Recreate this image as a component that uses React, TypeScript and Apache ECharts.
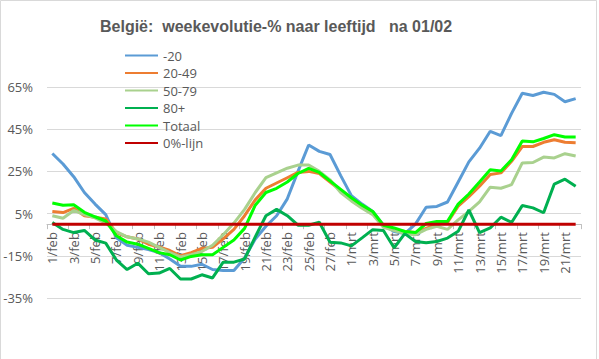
import React, { useEffect, useRef } from "react";
import * as echarts from "echarts";

const categories = [
  "1/feb","2/feb","3/feb","4/feb","5/feb","6/feb","7/feb","8/feb","9/feb","10/feb",
  "11/feb","12/feb","13/feb","14/feb","15/feb","16/feb","17/feb","18/feb","19/feb","20/feb",
  "21/feb","22/feb","23/feb","24/feb","25/feb","26/feb","27/feb","28/feb","1/mrt","2/mrt",
  "3/mrt","4/mrt","5/mrt","6/mrt","7/mrt","8/mrt","9/mrt","10/mrt","11/mrt","12/mrt",
  "13/mrt","14/mrt","15/mrt","16/mrt","17/mrt","18/mrt","19/mrt","20/mrt","21/mrt","22/mrt",
];

const min20 = [
  33.5, 28.5, 22.5, 15, 9.5, 4.5, -6.5, -10, -11, -12,
  -13.5, -16.5, -20, -20, -19, -21.5, -22, -22, -16, -7,
  -1, 4, 12, 25, 37.5, 34.5, 33, 23, 13.5, 9.5,
  6, -0.5, -3.5, -4.5, 0, 8, 8.4, 10.5, 20, 29.5,
  36, 44, 42, 52.5, 62, 61, 62.5, 61.5, 58, 59.5,
];

const age20_49 = [
  6, 5.5, 7.5, 4, 3.3, 2.5, -4, -6, -7, -9.5,
  -10.8, -12.5, -15, -13.5, -11.5, -11, -7, -2.5, 4, 11.5,
  17, 19.5, 22, 24.5, 25, 24, 20, 16, 12, 8.5,
  5.5, -1, -2.5, -3.5, -4, -2, 0, 0.8, 8.5, 13,
  18, 23.5, 24.3, 29.8, 36.8, 36.8, 38.8, 40, 38.8, 38.6,
];

const age50_79 = [
  4, 2.8, 6.5, 4.5, 3, 0.5, -3.5, -6, -7, -8.5,
  -11, -13.5, -15.5, -14.5, -13, -10, -5, 0.5, 7, 15,
  22, 24.3, 26.5, 28, 28, 25, 21, 15, 11, 7.5,
  4.5, -1.5, -3, -4.5, -5, -2.5, -1, -2.5, 2, 6,
  10.5, 17.5, 17, 18.7, 29, 29.2, 31.8, 31.4, 33.4, 32.3,
];

const age80plus = [
  0.8, -2.5, -4, -3, -7.5, -9, -17, -21.5, -18.5, -23.5,
  -23.2, -21, -26, -26, -24, -25.5, -18, -18, -16.5, -6,
  4, 7, 4, -0.5, -0.5, 0.9, -8.6, -8.9, -10.3, -6.5,
  -2.6, -3, -11.2, -4.5, -8.2, -8.8, -8.2, -6.6, -3.4, 6.7,
  -4, -1.8, 3.3, 0.8, 8.8, 7.7, 5.4, 19, 21.3, 18,
];

const totaal = [
  10, 9, 9.2, 5.6, 3.5, 1.5, -5.5, -8.5, -9.5, -11.5,
  -13.5, -14.5, -17, -15.3, -14.5, -14.5, -11, -7.5, -2, 9,
  15, 17, 20, 24, 26.4, 24.5, 20.5, 16.5, 12.5, 9,
  6, -0.5, -1.8, -3.5, -4, 0.3, 1.3, 1.3, 9.5, 14.3,
  20, 25.8, 25.2, 30.5, 39.4, 39, 40.6, 42.4, 41.3, 41.3,
];

const nulLijn = categories.map(() => 0);

const seriesNames = ["-20", "20-49", "50-79", "80+", "Totaal", "0%-lijn"];
const seriesColors = ["#5B9BD5", "#ED7D31", "#A9D18E", "#00B050", "#00FF00", "#C00000"];
const seriesData = [min20, age20_49, age50_79, age80plus, totaal, nulLijn];

const yTicks = { min: -35, max: 65, interval: 20 };

const GRID_TOP = 87;
const GRID_BOTTOM = 61;
const CHART_H = 359;

export default function App() {
  const ref = useRef<HTMLDivElement>(null);
  useEffect(() => {
    if (!ref.current) return;
    const chart = echarts.init(ref.current, undefined, { renderer: "svg" });
    const textColor = "#595959";
    const font = "'Open Sans', sans-serif";
    const plotH = CHART_H - GRID_TOP - GRID_BOTTOM;
    const zeroFromBottom = (plotH * (0 - yTicks.min)) / (yTicks.max - yTicks.min);
    chart.setOption({
      animation: false,
      backgroundColor: "#ffffff",
      title: {
        text: "België:  weekevolutie-% naar leeftijd   na 01/02",
        left: 100,
        top: 18,
        padding: 0,
        textStyle: {
          fontFamily: "'Liberation Sans', Arial, sans-serif",
          fontWeight: "bold",
          fontSize: 16,
          color: textColor,
        },
      },
      legend: {
        orient: "vertical",
        left: 124,
        top: 49,
        padding: 0,
        itemWidth: 33,
        itemHeight: 12,
        itemGap: 4.5,
        data: seriesNames,
        itemStyle: { opacity: 0 },
        textStyle: { fontFamily: font, fontSize: 13, color: textColor },
      },
      grid: { left: 47, right: 18, top: GRID_TOP, bottom: GRID_BOTTOM, containLabel: false },
      xAxis: {
        type: "category",
        data: categories,
        boundaryGap: true,
        offset: -zeroFromBottom,
        axisLine: { show: true, onZero: false, lineStyle: { color: "#BFBFBF", width: 1 } },
        axisTick: { show: true, interval: 1, length: 5, lineStyle: { color: "#BFBFBF" } },
        axisLabel: {
          interval: 1,
          rotate: 90,
          margin: 8,
          fontFamily: font,
          fontSize: 13,
          color: textColor,
        },
        splitLine: { show: false },
      },
      yAxis: {
        type: "value",
        min: yTicks.min,
        max: yTicks.max,
        interval: yTicks.interval,
        axisLine: { show: false },
        axisTick: { show: false },
        axisLabel: {
          formatter: (v: number) => `${v}%`,
          margin: 14,
          fontFamily: font,
          fontSize: 13,
          color: textColor,
        },
        splitLine: { lineStyle: { color: "#D9D9D9", width: 1 } },
      },
      series: seriesNames.map((name, i) => ({
        name,
        type: "line",
        data: seriesData[i],
        symbol: "none",
        smooth: false,
        color: seriesColors[i],
        lineStyle: { color: seriesColors[i], width: 3 },
        z: 2 + i,
      })),
      graphic: [
        {
          type: "rect",
          shape: { x: 0.5, y: 0.5, width: 596, height: 362 },
          style: { fill: "none", stroke: "#D9D9D9", lineWidth: 1 },
          silent: true,
        },
      ],
    });
    return () => chart.dispose();
  }, []);
  return (
    <div
      ref={ref}
      style={{ position: "fixed", left: 0, top: 0, width: 599, height: 359 }}
    />
  );
}
